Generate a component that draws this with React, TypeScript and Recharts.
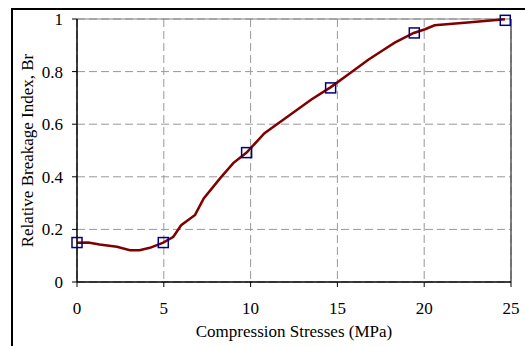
import { ComposedChart, Line, Scatter, XAxis, YAxis, CartesianGrid, ReferenceLine } from 'recharts';

// curve
const curveX = [0, 0.65, 1.3, 2.3, 3.05, 3.6, 4.2, 4.97, 5.55, 6.0, 6.8, 7.3, 8.25, 9.0, 9.77, 10.8, 12, 13.5, 14.6, 15.7, 16.8, 17.6, 18.3, 19.4, 20.05, 20.6, 22.5, 24.65];
const curveY = [0.149, 0.15, 0.143, 0.134, 0.121, 0.121, 0.13, 0.15, 0.172, 0.216, 0.255, 0.318, 0.395, 0.452, 0.492, 0.566, 0.623, 0.694, 0.74, 0.793, 0.846, 0.88, 0.91, 0.947, 0.961, 0.976, 0.987, 0.999];

// measured points (squares)
const markerX = [0, 4.97, 9.77, 14.61, 19.43, 24.67];
const markerY = [0.15, 0.15, 0.492, 0.738, 0.947, 0.995];

const xTicks = [0, 5, 10, 15, 20, 25];
const yTicks = [0, 0.2, 0.4, 0.6, 0.8, 1];

const xLabel = 'Compression Stresses (MPa)';
const yLabel = 'Relative Breakage Index, Br';

const curve = curveX.map((x, i) => ({ x, y: curveY[i] }));
const markers = markerX.map((x, i) => ({ x, y: markerY[i] }));

const font = "'Liberation Serif', serif";
const tickStyle = { fill: '#000', fontSize: 17, fontFamily: font };

const Square = (props: any) => {
  const { cx, cy } = props;
  if (cx == null || cy == null) return null;
  return <rect x={cx - 5} y={cy - 5} width={10} height={10} fill="none" stroke="#000080" strokeWidth={1.5} />;
};

export default function App() {
  return (
    <div
      style={{
        position: 'absolute',
        left: 0,
        top: 0,
        width: 525,
        height: 346,
        background: '#fff',
        overflow: 'hidden',
        fontFamily: font,
      }}
    >
      <style>{`.recharts-surface text, .recharts-text { font-family: 'Liberation Serif', serif !important; }`}</style>
      <div
        style={{
          position: 'absolute',
          left: 11,
          top: 8,
          width: 600,
          height: 400,
          borderTop: '2px solid #000',
          borderLeft: '2px solid #000',
        }}
      />
      <ComposedChart
        width={525}
        height={346}
        margin={{ top: 19, right: 14, left: 27, bottom: 0 }}
        style={{ position: 'absolute', left: 0, top: 0 }}
      >
        <CartesianGrid stroke="#999" strokeDasharray="8 4" />
        <XAxis
          dataKey="x"
          type="number"
          domain={[0, 25]}
          ticks={xTicks}
          height={64}
          tickSize={5}
          tickMargin={15}
          axisLine={{ stroke: '#000', strokeWidth: 1.5 }}
          tickLine={{ stroke: '#000' }}
          tick={tickStyle}
          label={{ value: xLabel, position: 'insideBottom', offset: 9, fill: '#000', fontSize: 17, fontFamily: font }}
        />
        <YAxis
          type="number"
          domain={[0, 1]}
          ticks={yTicks}
          width={50}
          tickSize={5}
          tickMargin={9}
          axisLine={{ stroke: '#000', strokeWidth: 1.5 }}
          tickLine={{ stroke: '#000' }}
          tick={tickStyle}
          label={{
            value: yLabel,
            angle: -90,
            position: 'insideLeft',
            offset: 0,
            fill: '#000',
            fontSize: 17,
            fontFamily: font,
            style: { textAnchor: 'middle' },
          }}
        />
        <ReferenceLine y={1} stroke="#808080" strokeWidth={1} />
        <ReferenceLine x={25} stroke="#555" strokeWidth={1.5} />
        <Line
          data={curve}
          dataKey="y"
          type="linear"
          stroke="#800000"
          strokeWidth={2.5}
          dot={false}
          isAnimationActive={false}
        />
        <Scatter data={markers} dataKey="y" shape={Square} isAnimationActive={false} />
      </ComposedChart>
    </div>
  );
}
